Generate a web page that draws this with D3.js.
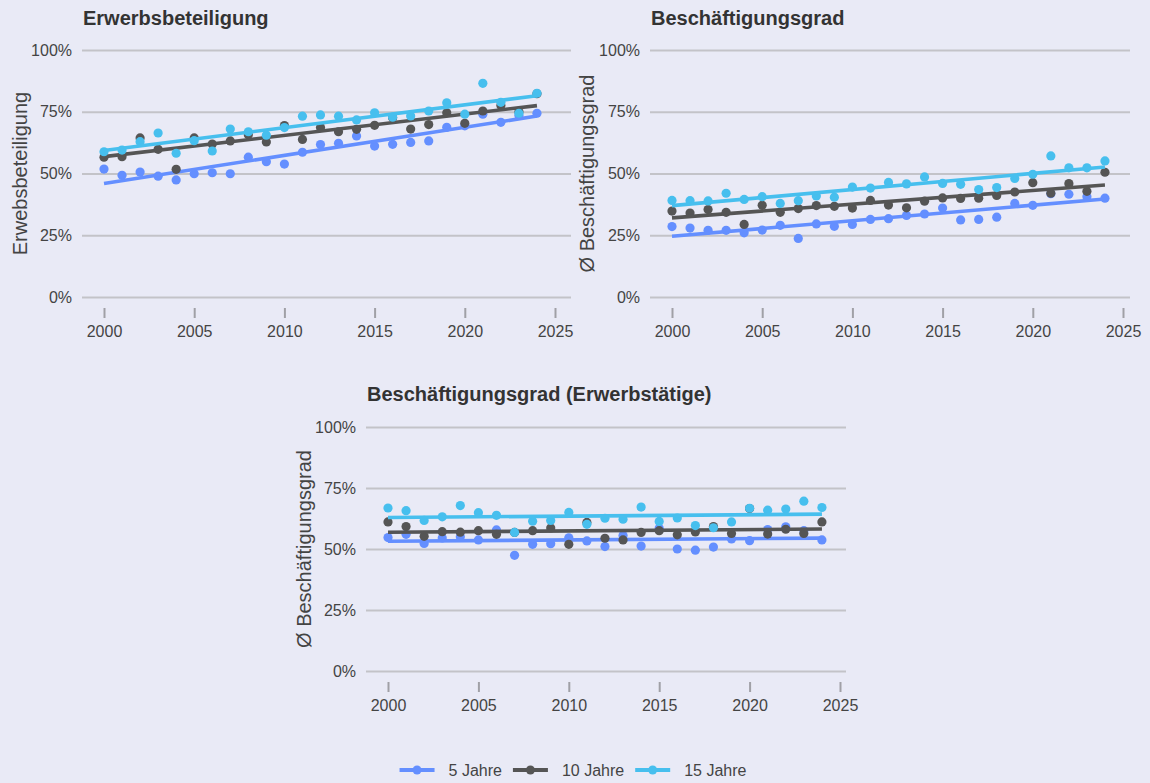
<!DOCTYPE html>
<html><head><meta charset="utf-8">
<script src="https://cdn.jsdelivr.net/npm/d3@7"></script>
<style>
html,body{margin:0;padding:0;background:#E9EAF6;}
svg{display:block;font-family:"Liberation Sans",Arial,Helvetica,sans-serif;}
</style>
</head><body>
<svg id="c" width="1150" height="783"></svg>
<script>
// ---------- data ----------
const years = [2000,2001,2002,2003,2004,2005,2006,2007,2008,2009,2010,2011,2012,2013,2014,2015,2016,2017,2018,2019,2020,2021,2022,2023,2024];
const seriesNames = ["5 Jahre","10 Jahre","15 Jahre"];
const seriesColors = ["#648FFF","#555555","#47BFEE"];
const xTickValues = [2000,2005,2010,2015,2020,2025];
const yTickValues = [0,25,50,75,100];
const panelTitles = ["Erwerbsbeteiligung","Beschäftigungsgrad","Beschäftigungsgrad (Erwerbstätige)"];
const yAxisTitles = ["Erwebsbeteiligung","Ø Beschäftigungsgrad","Ø Beschäftigungsgrad"];

// Panel 1: Erwerbsbeteiligung (%)
const erwerb5  = [51.8,49.3,50.6,48.9,47.4,49.9,50.3,49.9,56.6,54.8,53.8,58.6,61.7,62.2,65.2,61.1,61.8,62.6,63.2,68.7,69.3,74.0,70.7,73.5,74.4];
const erwerb10 = [56.6,56.8,64.4,59.8,51.7,64.4,61.9,63.2,65.7,62.8,69.4,63.8,68.6,66.9,67.9,69.5,72.6,68.0,69.8,74.6,70.3,75.3,77.5,75.0,82.3];
const erwerb15 = [58.8,59.5,62.9,66.4,58.2,63.3,59.1,68.0,66.9,65.5,68.6,73.2,73.7,73.2,71.7,74.6,72.8,73.3,75.3,78.6,74.0,86.5,78.8,74.4,82.5];

// Panel 2: Beschäftigungsgrad (%)
const besch5  = [28.5,27.9,27.0,27.0,26.0,27.1,29.0,23.7,29.6,28.6,29.4,31.4,31.7,33.0,33.6,36.0,31.2,31.4,32.3,37.9,37.1,41.8,41.6,40.6,40.0];
const besch10 = [34.8,34.0,35.4,34.3,29.4,37.1,34.3,35.8,37.0,36.7,36.0,39.1,37.2,36.1,38.8,40.1,39.9,40.0,41.1,42.5,46.3,42.0,45.9,42.8,50.5];
const besch15 = [39.1,39.0,38.9,42.0,39.5,40.6,37.9,39.0,40.9,40.4,44.5,44.1,46.4,45.8,48.6,46.0,45.6,43.5,44.3,48.0,49.7,57.1,52.3,52.3,55.1];

// Panel 3: Beschäftigungsgrad der Erwerbstätigen (%)
const erwt5  = [54.7,56.0,52.3,54.5,55.0,53.7,57.8,47.4,51.9,52.2,54.6,53.3,51.0,55.5,51.2,58.5,50.0,49.5,50.8,54.1,53.4,58.0,59.1,57.5,53.7];
const erwt10 = [61.1,59.2,55.2,57.1,56.9,57.5,56.0,56.8,57.5,58.6,51.9,60.9,54.4,53.7,56.8,57.5,55.8,57.0,59.2,56.4,66.6,56.1,58.1,56.4,61.1];
const erwt15 = [66.8,65.7,61.7,63.2,67.8,64.9,63.8,56.8,61.4,61.7,65.0,60.1,62.6,62.2,67.2,61.3,62.7,59.6,58.7,61.1,66.7,65.9,66.4,69.6,67.0];

const panelSeries = [[erwerb5,erwerb10,erwerb15],[besch5,besch10,besch15],[erwt5,erwt10,erwt15]];

// ---------- layout ----------
const panels = [
  {gl:82,  gr:571,  xa:104, xb:555,  top:50,  bottom:297, titleY:25,  yTitleX:20},
  {gl:650, gr:1130, xa:672, xb:1123, top:50,  bottom:297, titleY:25,  yTitleX:587},
  {gl:366, gr:846,  xa:388, xb:840,  top:427, bottom:671, titleY:401, yTitleX:304}
];

const svg = d3.select("#c");
svg.append("rect").attr("width",1150).attr("height",783).attr("fill","#E9EAF6");

function ols(xs, ys){
  const mx = d3.mean(xs), my = d3.mean(ys);
  let sxy=0, sxx=0;
  xs.forEach((x,i)=>{ sxy += (x-mx)*(ys[i]-my); sxx += (x-mx)*(x-mx); });
  const b = sxy/sxx;
  return x => my + b*(x-mx);
}

panels.forEach((p, pi) => {
  const g = svg.append("g");
  const x = d3.scaleLinear().domain([2000,2025]).range([p.xa,p.xb]);
  const y = d3.scaleLinear().domain([0,100]).range([p.bottom,p.top]);

  // gridlines + y tick labels
  const yAxis = d3.axisLeft(y).tickValues(yTickValues).tickFormat(d=>d+"%")
      .tickSize(-(p.gr-p.gl)).tickPadding(10);
  const ya = g.append("g").attr("transform",`translate(${p.gl},0)`).call(yAxis);
  ya.select(".domain").remove();
  ya.selectAll(".tick line").attr("stroke","#c3c3c8").attr("stroke-width",2);
  ya.selectAll(".tick text").attr("fill","#444").attr("font-size","16px")
    .attr("font-family","'Liberation Sans',Arial,sans-serif");

  // x axis ticks + labels
  const xAxis = d3.axisBottom(x).tickValues(xTickValues).tickFormat(d3.format("d"))
      .tickSize(10).tickPadding(8);
  const xa = g.append("g").attr("transform",`translate(0,${p.bottom+11})`).call(xAxis);
  xa.select(".domain").remove();
  xa.selectAll(".tick line").attr("stroke","#a0a0a6").attr("stroke-width",2);
  xa.selectAll(".tick text").attr("fill","#444").attr("font-size","16px")
    .attr("font-family","'Liberation Sans',Arial,sans-serif");

  // titles
  g.append("text").attr("x",p.gl+1).attr("y",p.titleY)
    .attr("font-size","20px").attr("font-weight","bold").attr("fill","#333")
    .text(panelTitles[pi]);
  g.append("text")
    .attr("transform",`translate(${p.yTitleX+7},${(p.top+p.bottom)/2}) rotate(-90)`)
    .attr("text-anchor","middle").attr("font-size","20px").attr("fill","#444")
    .text(yAxisTitles[pi]);

  // series: points then OLS trend line
  panelSeries[pi].forEach((vals, si) => {
    g.append("g").selectAll("circle").data(vals).join("circle")
      .attr("cx",(d,i)=>x(years[i])).attr("cy",d=>y(d)).attr("r",4.6)
      .attr("fill",seriesColors[si]);
    const f = ols(years, vals);
    const x0 = d3.min(years), x1 = d3.max(years);
    g.append("path")
      .attr("d", d3.line().x(d=>x(d)).y(d=>y(f(d)))([x0,x1]))
      .attr("stroke",seriesColors[si]).attr("stroke-width",3.6).attr("fill","none");
  });
});

// ---------- legend ----------
const leg = svg.append("g");
const items = [];
seriesNames.forEach((n,i)=>{
  const it = leg.append("g");
  it.append("line").attr("x1",0).attr("x2",35).attr("y1",0).attr("y2",0)
    .attr("stroke",seriesColors[i]).attr("stroke-width",4);
  it.append("circle").attr("cx",17.5).attr("cy",0).attr("r",4.5).attr("fill",seriesColors[i]);
  const t = it.append("text").attr("x",49).attr("y",5.5).attr("font-size","16px").attr("fill","#444").text(n);
  items.push({it, w: 49 + t.node().getComputedTextLength()});
});
const gap = 11;
const total = d3.sum(items, d=>d.w) + gap*(items.length-1);
let start = 573 - total/2;
items.forEach(d=>{ d.it.attr("transform",`translate(${start},770)`); start += d.w + gap; });
</script>
</body></html>
